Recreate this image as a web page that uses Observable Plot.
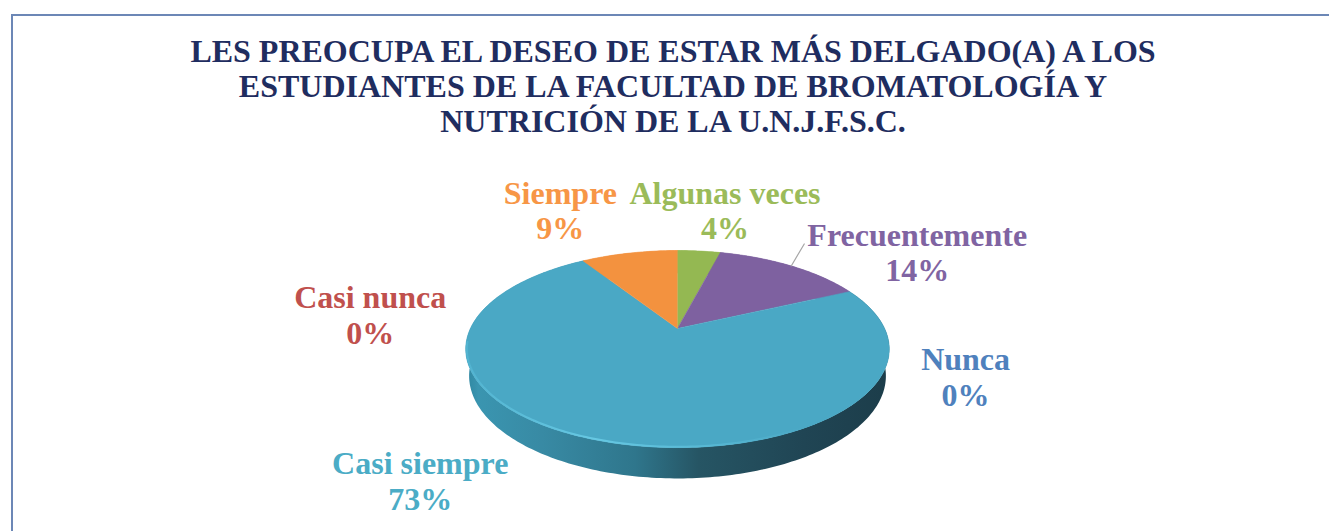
<!DOCTYPE html>
<html>
<head>
<meta charset="utf-8">
<script src="https://cdn.jsdelivr.net/npm/d3@7"></script>
<script src="https://cdn.jsdelivr.net/npm/@observablehq/plot@0.6"></script>
<style>
  html, body { margin: 0; padding: 0; background: #ffffff; width: 1329px; height: 531px; overflow: hidden; }
  #chart { position: absolute; left: 0; top: 0; }
  #frame { position: absolute; left: 11px; top: 14px; width: 1340px; height: 560px;
           border-top: 2px solid #6c87b6; border-left: 2px solid #6c87b6; box-sizing: border-box; }
  #title { position: absolute; left: 0; top: 34px; width: 1346px; text-align: center;
           font-family: "Liberation Serif", "Times New Roman", serif; font-weight: bold;
           font-size: 32px; line-height: 35px; color: #1f2d60; }
</style>
</head>
<body>
<div id="chart"></div>
<div id="frame"></div>
<div id="title"></div>
<script>
// ---------- data ----------
const titleLines = [
  "LES PREOCUPA EL DESEO DE ESTAR MÁS DELGADO(A) A LOS",
  "ESTUDIANTES DE LA FACULTAD DE BROMATOLOGÍA Y",
  "NUTRICIÓN DE LA U.N.J.F.S.C."
];
const categories = ["Algunas veces", "Frecuentemente", "Nunca", "Casi siempre", "Casi nunca", "Siempre"];
const percents   = [4, 14, 0, 73, 0, 9];

// ---------- styles / layout ----------
const topColors = {
  "Algunas veces": "#94b852", "Frecuentemente": "#7e61a0", "Nunca": "#4f81bd",
  "Casi siempre": "#4aa8c5", "Casi nunca": "#c0504d", "Siempre": "#f3923f"
};
const labelColors = {
  "Algunas veces": "#9bbb59", "Frecuentemente": "#8064a2", "Nunca": "#4f81bd",
  "Casi siempre": "#4bacc6", "Casi nunca": "#c0504d", "Siempre": "#f79646"
};
// pixel nudges of each data label from its slice's rim mid-point
const labelNudge = {
  "Algunas veces": [26, -41], "Frecuentemente": [126, -14], "Nunca": [116, 85],
  "Casi siempre": [-185, 39], "Casi nunca": [-213, 54], "Siempre": [-69, -43]
};
const leaderFor = "Frecuentemente";
const leaderEnd = [13, -22];

const W = 1329, H = 531;
const CX = 677, CY = 328;            // projected pie centre (page px)
const alpha = Math.asin(0.455);       // view elevation
const cosA = Math.cos(alpha), sinA = Math.sin(alpha);
const Dist = 4.27;                    // camera distance (in pie radii)
const R = 207.1;                      // px per unit
const thick = 0.145;                  // pie thickness (in radii)

function proj(deg, r, h) {
  const t = deg * Math.PI / 180;
  const u = r * Math.sin(t), v = r * Math.cos(t);
  const z = Dist + v * cosA - h * sinA;
  return {x: u * Dist / z, y: (h * cosA + v * sinA) * Dist / z};
}

// slices
const total = d3.sum(percents);
let acc = 0;
const slices = categories.map((c, i) => {
  const a0 = acc / total * 360;
  acc += percents[i];
  const a1 = acc / total * 360;
  return {cat: c, pct: percents[i], a0, a1, mid: (a0 + a1) / 2};
});

function arcPts(a0, a1, r, h) {
  const n = Math.max(2, Math.ceil((a1 - a0) / 1));
  return d3.range(n + 1).map(k => proj(a0 + (a1 - a0) * k / n, r, h));
}

const marks = [];
// soft shadow under the pie
marks.push(Plot.line(arcPts(0, 360, 1.01, -thick - 0.01), {x: "x", y: "y", fill: "#8a8a8a", fillOpacity: 0.55, stroke: "none", ariaLabel: "shadow"}));
// side walls
for (const s of slices) {
  if (s.pct <= 0) continue;
  const top = arcPts(s.a0, s.a1, 1, 0);
  const bot = arcPts(s.a0, s.a1, 1, -thick).reverse();
  const poly = top.concat(bot);
  marks.push(Plot.line(poly, {x: "x", y: "y", fill: s.cat === "Casi siempre" ? "url(#sideGrad)" : topColors[s.cat], stroke: "none", curve: "linear"}));
}
// top faces
for (const s of slices) {
  if (s.pct <= 0) continue;
  const poly = [proj(0, 0, 0)].concat(arcPts(s.a0, s.a1, 1, 0));
  marks.push(Plot.line(poly, {x: "x", y: "y", fill: topColors[s.cat], stroke: topColors[s.cat], strokeWidth: 0.6, curve: "linear"}));
}
// front bevel highlight
marks.push(Plot.line(arcPts(100, 262, 0.995, 0), {x: "x", y: "y", stroke: "url(#rimGrad)", strokeWidth: 2, curve: "linear"}));

// labels
const labels = slices.map(s => {
  const p = proj(s.mid, 1, 0);
  const [dx, dy] = labelNudge[s.cat];
  return {text: `${s.cat}\n${s.pct}%`, x: p.x + dx / R, y: p.y - dy / R, color: labelColors[s.cat], cat: s.cat, rim: p};
});
const lead = labels.find(l => l.cat === leaderFor);
marks.push(Plot.line([lead.rim, {x: lead.rim.x + leaderEnd[0] / R, y: lead.rim.y - leaderEnd[1] / R}],
  {x: "x", y: "y", stroke: "#a6a6a6", strokeWidth: 1.2}));
marks.push(Plot.text(labels, {
  x: "x", y: "y", text: "text", fill: "color", fontSize: 32, fontWeight: "bold",
  fontFamily: "Liberation Serif, Times New Roman, serif", lineHeight: 1.12, textAnchor: "middle"
}));

const chart = Plot.plot({
  width: W, height: H,
  marginTop: 0, marginRight: 0, marginBottom: 0, marginLeft: 0,
  style: {background: "transparent"},
  x: {domain: [(0 - CX) / R, (W - CX) / R], range: [0, W], axis: null},
  y: {domain: [CY / R, (CY - H) / R], range: [0, H], axis: null},
  color: {type: "identity"},
  marks
});

const defs = d3.select(chart).insert("defs", ":first-child");
const g = defs.append("linearGradient").attr("id", "sideGrad").attr("x1", 0).attr("x2", 1).attr("y1", 0).attr("y2", 0);
[[0, "#2f86a0"], [0.03, "#3a95b0"], [0.18, "#388aa4"], [0.4, "#2f768c"], [0.55, "#265564"], [0.8, "#204554"], [1, "#1c3d4a"]].forEach(([o, c]) =>
  g.append("stop").attr("offset", o).attr("stop-color", c));
const g2 = defs.append("linearGradient").attr("id", "rimGrad").attr("x1", 0).attr("x2", 1).attr("y1", 0).attr("y2", 0);
[[0, "#52b4d1"], [0.3, "#66c8e3"], [0.55, "#58b9d5"], [0.8, "#4aa8c5"], [1, "#4aa8c5"]].forEach(([o, c]) =>
  g2.append("stop").attr("offset", o).attr("stop-color", c));
const f = defs.append("filter").attr("id", "blur").attr("x", "-20%").attr("y", "-20%").attr("width", "140%").attr("height", "140%");
f.append("feGaussianBlur").attr("stdDeviation", 4);
d3.select(chart).select('g[aria-label="shadow"]').attr("filter", "url(#blur)");

document.getElementById("chart").appendChild(chart);
document.getElementById("title").innerHTML = titleLines.map(t => `<div>${t}</div>`).join("");
</script>
</body>
</html>
